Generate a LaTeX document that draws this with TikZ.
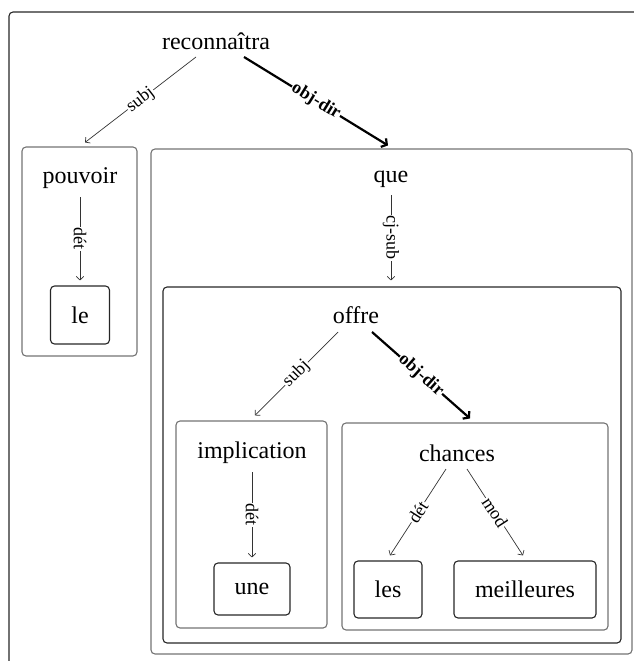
\documentclass[tikz,border=0pt]{standalone}
\usepackage{fontspec}
\setmainfont{Liberation Serif}
\usepackage{tikz}
\usetikzlibrary{arrows,arrows.meta}
\usetikzlibrary{calc}
\usetikzlibrary{positioning}
\usetikzlibrary{fit}

\begin{document}
\begin{tikzpicture}[x=1pt,y=-1pt,semithick]
 				 \tikzstyle{word}=[inner sep=0pt, anchor=base, font=\fontsize{24}{28}\selectfont]
 				 \tikzstyle{leaf}=[draw=black!85, rounded corners=4pt, line width=1.1pt, inner sep=0pt, font=\fontsize{24}{28}\selectfont]
 				 \tikzstyle{dbox}=[draw=black!85, rounded corners=4pt, line width=1.1pt, inner sep=0pt]
 				 \tikzstyle{gbox}=[draw=black!55, rounded corners=4pt, line width=1.1pt, inner sep=0pt]
 				 \tikzstyle{dep}=[-{Straight Barb[length=3.5pt,width=7.5pt]}, line width=0.7pt, draw=black!80]
 				 \tikzstyle{objdep}=[-{Straight Barb[length=4pt,width=10pt]}, line width=2.2pt]
 				 \tikzstyle{rel}=[sloped, midway, fill=white, inner sep=1pt, font=\fontsize{18}{20}\selectfont]
 				 \useasboundingbox (0,0) rectangle (633,661);
 				 % frames
 					 \node[dbox, fit={(9,12) (660,690)}] 		(frame) {};
 					 \node[gbox, fit={(22,147) (137,356)}] 	(pbox) {};
 					 \node[gbox, fit={(151,149) (632,654)}] 	(qbox) {};
 					 \node[dbox, fit={(163,287) (621,643)}] 	(obox) {};
 					 \node[gbox, fit={(176,421) (327,628)}] 	(ibox) {};
 					 \node[gbox, fit={(342,423) (608,630)}] 	(cbox) {};
 				 % words
 					 \node[word] 			(rec) at (216,50) 	{reconnaîtra};
 					 \node[word]         (pouv) at (80,183) 	{pouvoir};
 					 \node[word]         (que) at (391,182) 	{que};
 					 \node[word]         (offre) at (356,323) 	{offre};
 					 \node[word]         (impl) at (252,458) 	{implication};
 					 \node[word]         (chan) at (457,461) 	{chances};
 					 \node[leaf, minimum width=59pt, minimum height=58pt] 	(le) at (80,315) 	{le};
 					 \node[leaf, minimum width=76pt, minimum height=52pt] 	(une) at (252,589) 	{une};
 					 \node[leaf, minimum width=68pt, minimum height=57pt] 	(les) at (388,589.5) 	{les};
 					 \node[leaf, minimum width=142pt, minimum height=57pt] 	(meil) at (525,589.5) 	{meilleures};
 					 \path
 							 ($(rec.base)+(-20,7)$) edge [dep] node[rel] {subj} ($(pbox.north)+(5.5,-4)$)
 							 ($(rec.base)+(28,7)$) edge [objdep] node[rel] {\textbf{obj-dir}} ($(qbox.north)+(-3.5,-3)$)
 							 ($(pouv.base)+(0,14)$) edge [dep] node[rel] {dét} ($(pouv.base|-le.north)+(0,-5)$)
 							 ($(que.base)+(0,13)$) edge [dep] node[rel] {cj-sub} ($(que.base|-obox.north)+(0,-6)$)
 							 ($(offre.base)+(-18,9)$) edge [dep] node[rel] {subj} ($(ibox.north)+(3.5,-5)$)
 							 ($(offre.base)+(16,9)$) edge [objdep] node[rel] {\textbf{obj-dir}} ($(cbox.north)+(-5,-4)$)
 							 ($(impl.base)+(0,14)$) edge [dep] node[rel] {dét} ($(impl.base|-une.north)+(0,-5)$)
 							 ($(chan.base)+(-11,8)$) edge [dep] node[rel] {dét} ($(les.north)+(2,-5)$)
 							 ($(chan.base)+(10,8)$) edge [dep] node[rel] {mod} ($(meil.north)+(-2,-5)$);
\end{tikzpicture}
\end{document}
